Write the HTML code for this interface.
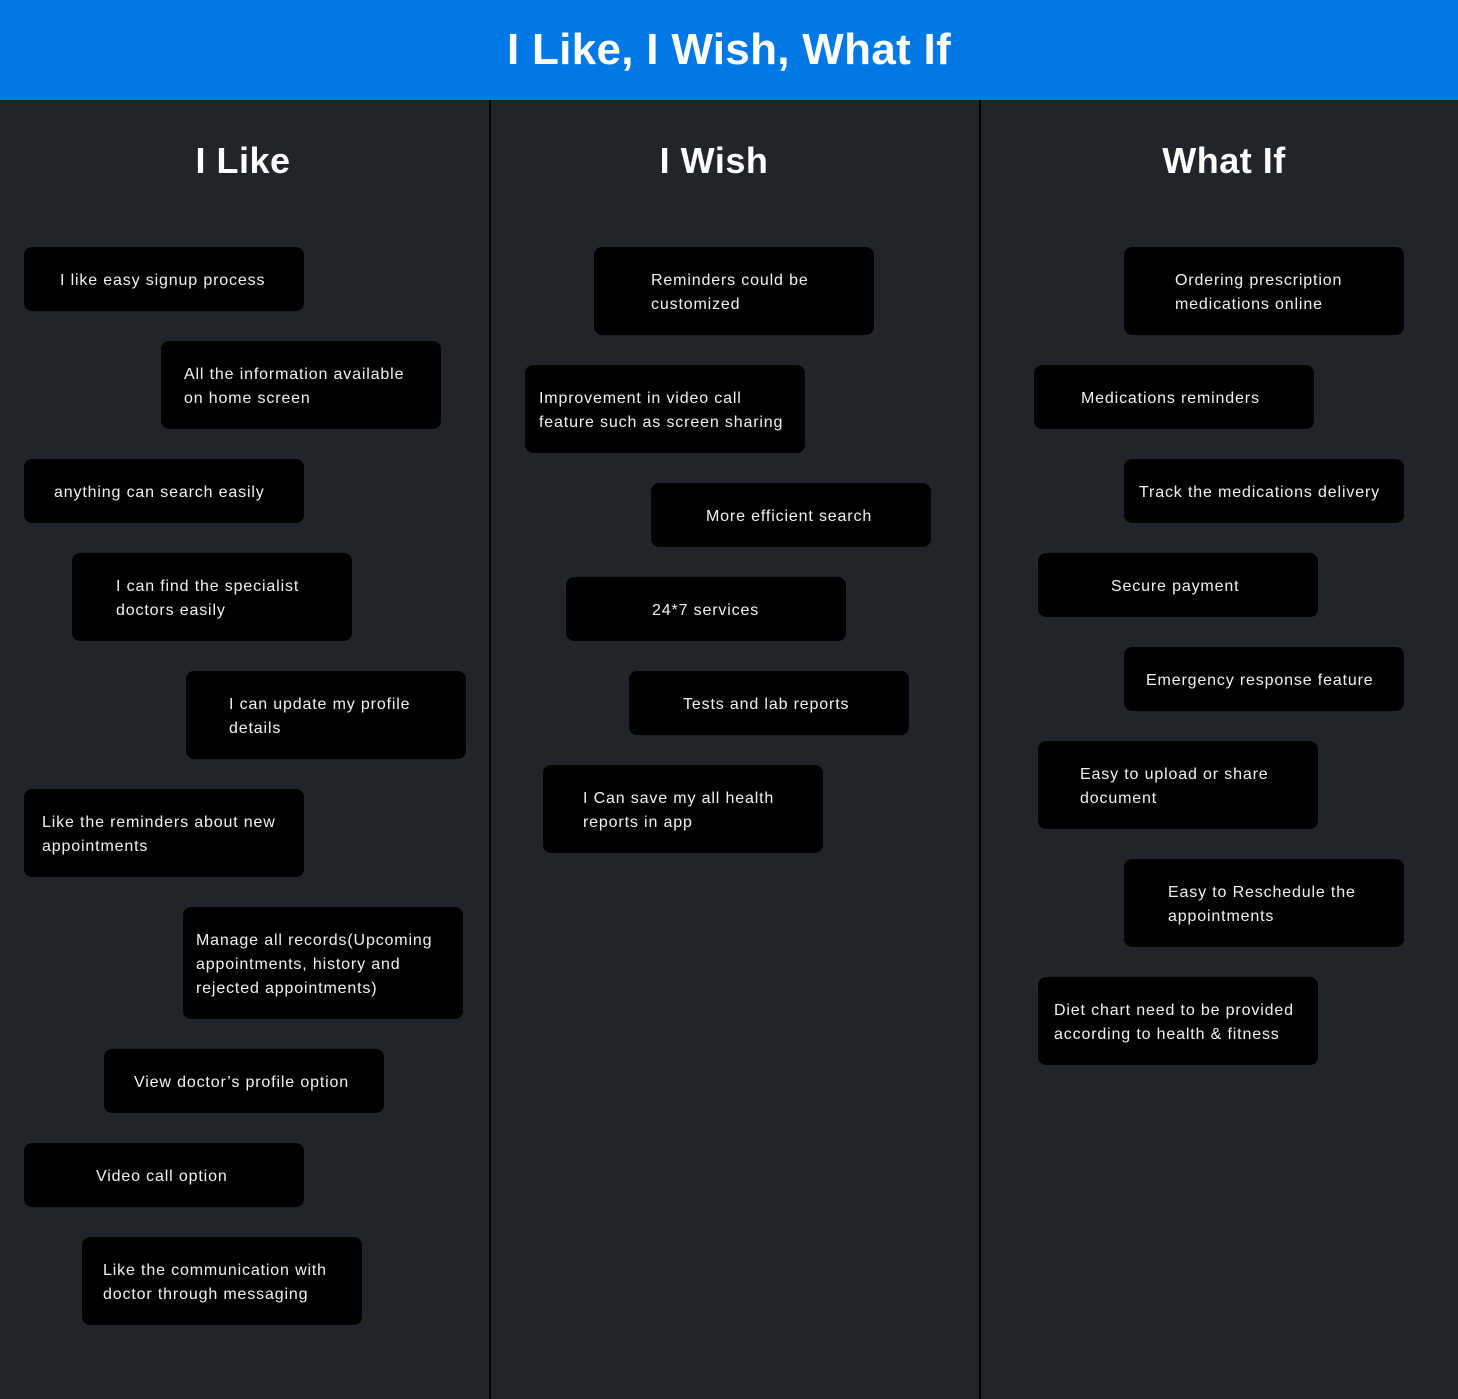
<!DOCTYPE html>
<html><head><meta charset="utf-8"><style>
*{margin:0;padding:0;box-sizing:border-box}
body{width:1458px;height:1399px;background:#212429;position:relative;overflow:hidden;font-family:"Liberation Sans",sans-serif;color:#fff}
#hdr{position:absolute;left:0;top:0;width:1458px;height:100px;background:#0079E7;text-align:center;font-weight:bold;font-size:44px;line-height:100px;letter-spacing:0.3px}
.div{position:absolute;top:100px;width:2px;height:1299px;background:#000}
.ct{position:absolute;top:135px;font-size:36px;font-weight:bold;line-height:52px;text-align:center;width:300px;letter-spacing:0.5px}
.card{position:absolute;width:280px;background:#000;border-radius:8px;font-size:16px;line-height:24px;display:flex;align-items:center;color:#f2f2f2;letter-spacing:0.85px;padding-top:4px;white-space:nowrap}
</style></head><body>
<div id="hdr">I Like, I Wish, What If</div>
<div class="div" style="left:489px"></div>
<div class="div" style="left:979px"></div>
<div class="ct" style="left:93px">I Like</div>
<div class="ct" style="left:564px">I Wish</div>
<div class="ct" style="left:1074px">What If</div>
<div id="cards"></div>
<script>
const cards=[
[24,247,64,60,"I like easy signup process"],
[161,341,88,184,"All the information available<br>on home screen"],
[24,459,64,54,"anything can search easily"],
[72,553,88,116,"I can find the specialist<br>doctors easily"],
[186,671,88,229,"I can update my profile<br>details"],
[24,789,88,42,"Like the reminders about new<br>appointments"],
[183,907,112,196,"Manage all records(Upcoming<br>appointments, history and<br>rejected appointments)"],
[104,1049,64,134,"View doctor’s profile option"],
[24,1143,64,96,"Video call option"],
[82,1237,88,103,"Like the communication with<br>doctor through messaging"],
[594,247,88,651,"Reminders could be<br>customized"],
[525,365,88,539,"Improvement in video call<br>feature such as screen sharing"],
[651,483,64,706,"More efficient search"],
[566,577,64,652,"24*7 services"],
[629,671,64,683,"Tests and lab reports"],
[543,765,88,583,"I Can save my all health<br>reports in app"],
[1124,247,88,1175,"Ordering prescription<br>medications online"],
[1034,365,64,1081,"Medications reminders"],
[1124,459,64,1139,"Track the medications delivery"],
[1038,553,64,1111,"Secure payment"],
[1124,647,64,1146,"Emergency response feature"],
[1038,741,88,1080,"Easy to upload or share<br>document"],
[1124,859,88,1168,"Easy to Reschedule the<br>appointments"],
[1038,977,88,1054,"Diet chart need to be provided<br>according to health &amp; fitness"]
];
const host=document.getElementById('cards');
cards.forEach((c,i)=>{
  const d=document.createElement('div');
  d.className='card';
  d.style.left=c[0]+'px';d.style.top=c[1]+'px';d.style.height=c[2]+'px';
  d.style.paddingLeft=(c[3]-c[0])+'px';
  d.innerHTML='<span>'+c[4]+'</span>';
  
  
  host.appendChild(d);
});
</script>
</body></html>
